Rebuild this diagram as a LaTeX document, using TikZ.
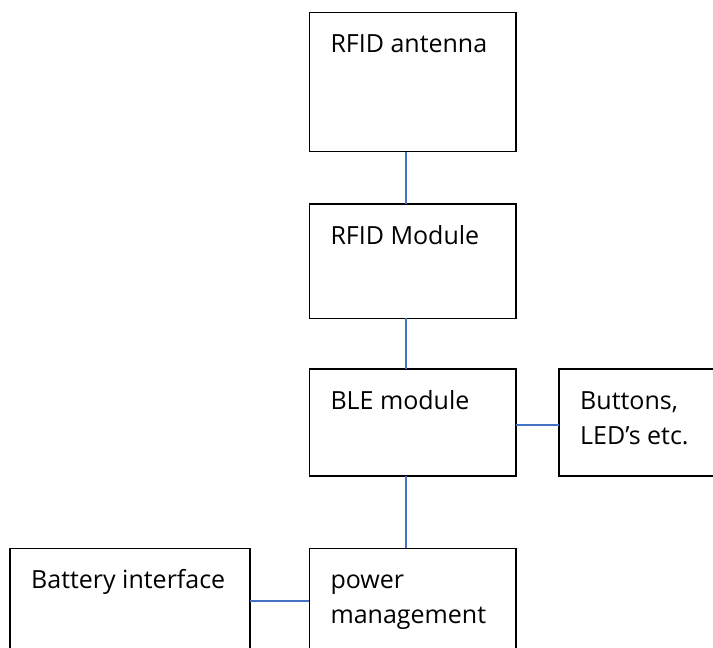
\documentclass[tikz,border=0pt]{standalone}
\usepackage{fontspec}
\setmainfont{Open Sans}
\usetikzlibrary{calc}
\definecolor{linkblue}{RGB}{68,114,196}
\begin{document}
\begin{tikzpicture}[x=1pt,y=-1pt,
  box/.style={draw=black, line width=1.3pt, anchor=north west, inner sep=0pt, outer sep=0pt},
  link/.style={draw=linkblue, line width=1.6pt},
  lbl/.style={anchor=base west, inner sep=0pt, font=\fontsize{25}{35}\selectfont, align=left}]
\useasboundingbox (0,0) rectangle (713,648);
\clip (0,0) rectangle (713,648);
\fill[white] (0,0) rectangle (713,648);
% boxes
\node[box, minimum width=206.7pt, minimum height=139pt] (ant) at (309.3,12.7) {};
\node[box, minimum width=206.7pt, minimum height=114.3pt] (mod) at (309.3,204) {};
\node[box, minimum width=206.7pt, minimum height=107pt] (ble) at (309.3,369) {};
\node[box, minimum width=170pt, minimum height=107pt] (btn) at (559,369) {};
\node[box, minimum width=206.7pt, minimum height=115pt] (pwr) at (309.3,548.3) {};
\node[box, minimum width=240pt, minimum height=115pt] (bat) at (10,548.3) {};
% labels (base anchor of a two-line label is its last line)
\node[lbl] (tant) at ($(ant.north west)+(21,40)$) {RFID antenna};
\node[lbl] (tmod) at ($(mod.north west)+(21,40)$) {RFID Module};
\node[lbl] (tble) at ($(ble.north west)+(21,40)$) {BLE module};
\node[lbl] (tbtn) at ($(btn.north west)+(21,75)$) {Buttons,\\LED’s etc.};
\node[lbl] (tpwr) at ($(pwr.north west)+(21,75)$) {power\\management};
\node[lbl] (tbat) at ($(bat.north west)+(21,40)$) {Battery interface};
% connectors
\coordinate (lx) at (406,0);
\coordinate (ly) at (0,424.7);
\coordinate (by) at (0,600.7);
\draw[link] (ant.south -| lx) -- (mod.north -| lx);
\draw[link] (mod.south -| lx) -- (ble.north -| lx);
\draw[link] (ble.south -| lx) -- (pwr.north -| lx);
\draw[link] (ble.east |- ly) -- (btn.west |- ly);
\draw[link] (bat.east |- by) -- (pwr.west |- by);
\end{tikzpicture}
\end{document}
